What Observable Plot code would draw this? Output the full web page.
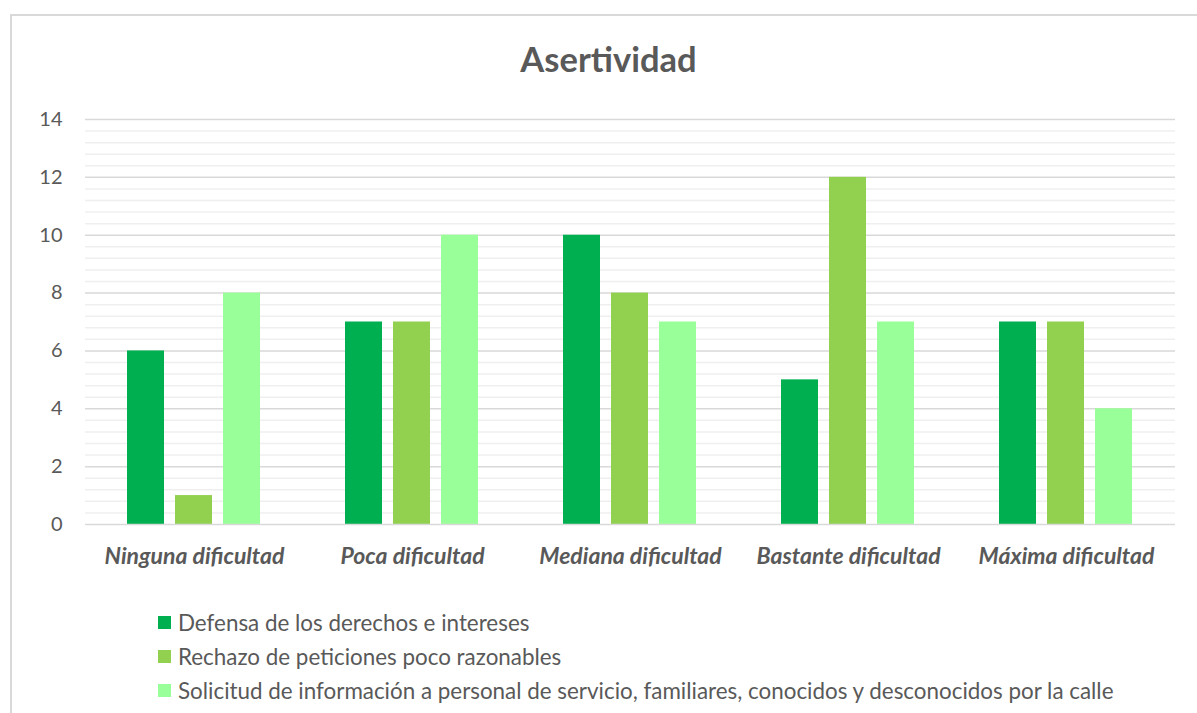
<!DOCTYPE html>
<html>
<head>
<meta charset="utf-8">
<script src="https://cdn.jsdelivr.net/npm/d3@7"></script>
<script src="https://cdn.jsdelivr.net/npm/@observablehq/plot@0.6"></script>
<style>
  html, body { margin: 0; padding: 0; background: #fff; overflow: hidden; }
  #wrap { position: relative; width: 1197px; height: 713px; font-family: Lato, sans-serif; color: #595959; }
  #frame { position: absolute; left: 10px; top: 14px; width: 1200px; height: 720px; border: 2px solid #d9d9d9; box-sizing: border-box; }
  #title { position: absolute; left: 20px; width: 1177px; top: 38px; text-align: center; font-size: 34.5px; font-weight: bold; color: #595959; line-height: 42px; }
  #chart { position: absolute; left: 0; top: 100px; }
  #legend { position: absolute; left: 158px; top: 605px; font-size: 22.4px; }
  .row { display: flex; align-items: center; height: 34px; }
  .sw { width: 13px; height: 13px; margin-right: 7px; }
</style>
</head>
<body>
<div id="wrap">
  <div id="frame"></div>
  <div id="title">Asertividad</div>
  <div id="chart"></div>
  <div id="legend"></div>
</div>
<script>
const groups = ["Ninguna dificultad", "Poca dificultad", "Mediana dificultad", "Bastante dificultad", "Máxima dificultad"];
const seriesNames = [
  "Defensa de los derechos e intereses",
  "Rechazo de peticiones poco razonables",
  "Solicitud de información a personal de servicio, familiares, conocidos y desconocidos por la calle"
];
const defensa   = [6, 7, 10, 5, 7];
const rechazo   = [1, 7, 8, 12, 7];
const solicitud = [8, 10, 7, 7, 4];
const colors = ["#00B050", "#92D050", "#99FF99"];
const yTicks = [0, 2, 4, 6, 8, 10, 12, 14];

const seriesValues = [defensa, rechazo, solicitud];
const data = [];
groups.forEach((g, i) => {
  seriesNames.forEach((s, j) => data.push({group: g, series: s, value: seriesValues[j][i]}));
});
const minorTicks = d3.range(0, 14.01, 0.4).filter(v => Math.abs(v / 2 - Math.round(v / 2)) > 1e-6);

const chart = Plot.plot({
  width: 1197,
  height: 470,
  marginTop: 19,
  marginBottom: 46,
  marginLeft: 84,
  marginRight: 21,
  style: {fontFamily: "Lato, sans-serif", color: "#595959", background: "transparent"},
  fx: {domain: groups, padding: 0, label: null},
  x: {domain: seriesNames, paddingInner: 0.227, paddingOuter: 0.865, axis: null},
  y: {domain: [0, 14], label: null},
  color: {domain: seriesNames, range: colors},
  marks: [
    Plot.ruleY(minorTicks, {stroke: "#efefef", strokeWidth: 1.5}),
    Plot.ruleY(yTicks.filter(d => d > 0), {stroke: "#d9d9d9", strokeWidth: 1.5}),
    Plot.barY(data, {fx: "group", x: "series", y: "value", fill: "series"}),
    Plot.ruleY([0], {stroke: "#d9d9d9", strokeWidth: 1.5}),
    Plot.axisY({ticks: yTicks, tickSize: 0, tickPadding: 23, fontSize: 20, fill: "#595959", tickFormat: d => d, label: null}),
    Plot.axisFx({anchor: "bottom", tickSize: 0, tickPadding: 23, fontSize: 23, fontWeight: "bold", fontStyle: "italic", fill: "#595959", label: null})
  ]
});
document.getElementById("chart").appendChild(chart);

const legend = document.getElementById("legend");
seriesNames.forEach((s, j) => {
  const row = document.createElement("div");
  row.className = "row";
  const sw = document.createElement("div");
  sw.className = "sw";
  sw.style.background = colors[j];
  const t = document.createElement("span");
  t.textContent = s;
  row.appendChild(sw);
  row.appendChild(t);
  legend.appendChild(row);
});
</script>
</body>
</html>
